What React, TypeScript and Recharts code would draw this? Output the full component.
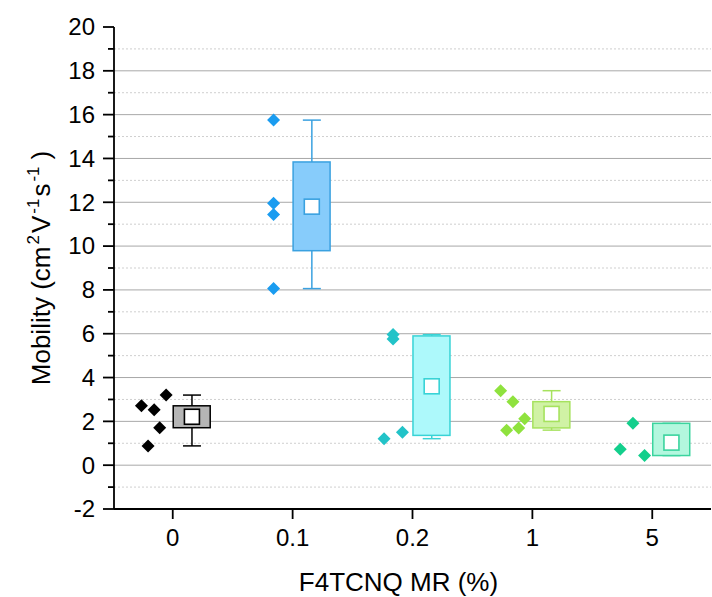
import React from 'react';
import { ComposedChart, XAxis, YAxis, Bar, Scatter, CartesianGrid } from 'recharts';

// Dopant molar ratio categories
const categories = ['0', '0.1', '0.2', '1', '5'];

// Individual device mobilities (cm^2 V^-1 s^-1) per category
const mobility0 = [2.71, 3.2, 2.53, 1.71, 0.88];
const mobility01 = [15.75, 11.95, 11.44, 8.06];
const mobility02 = [5.96, 5.76, 1.21, 1.5];
const mobility1 = [3.4, 2.9, 2.12, 1.7, 1.6];
const mobility5 = [1.91, 0.73, 0.44];

// Box statistics per category
const boxQ1 = [1.71, 9.79, 1.36, 1.7, 0.44];
const boxQ3 = [2.71, 13.84, 5.9, 2.9, 1.91];
const whiskerLow = [0.88, 8.06, 1.21, 1.6, 0.44];
const whiskerHigh = [3.2, 15.75, 5.96, 3.4, 1.91];
const boxMean = [2.21, 11.8, 3.6, 2.34, 1.03];

// Axis ticks
const yTicks = [-2, -1, 0, 1, 2, 3, 4, 5, 6, 7, 8, 9, 10, 11, 12, 13, 14, 15, 16, 17, 18, 19, 20];
const majorGrid = [0, 2, 4, 6, 8, 10, 12, 14, 16, 18];
const minorGrid = [-1, 1, 3, 5, 7, 9, 11, 13, 15, 17, 19];

// Layout: horizontal jitter of the raw points (category units), and box offset
const pointJitter = [
  [-0.261, -0.055, -0.155, -0.109, -0.206],
  [-0.159, -0.159, -0.159, -0.159],
  [-0.162, -0.162, -0.237, -0.084],
  [-0.265, -0.162, -0.064, -0.114, -0.215],
  [-0.161, -0.267, -0.064],
];
const BOX_SHIFT = 0.16;
const BOX_W = 37;
const CAP_HALF = 9;

const palette = [
  { point: '#000000', fill: '#b5b5b5', edge: '#000000' },
  { point: '#1a9cf0', fill: '#87ccfb', edge: '#3aa1e0' },
  { point: '#22c3c8', fill: '#adf9fb', edge: '#38d3d6' },
  { point: '#8fe23e', fill: '#d0f2a5', edge: '#a6e25e' },
  { point: '#13cf8c', fill: '#b3f7de', edge: '#3bd49e' },
];

const FONT = 'Liberation Sans, Arial, sans-serif';
const X_DOMAIN: [number, number] = [-0.49, 4.49];
const AXIS_W = 1.8;

const seriesValues = [mobility0, mobility01, mobility02, mobility1, mobility5];

const points = seriesValues.flatMap((vals, ci) =>
  vals.map((v, k) => ({ x: ci + pointJitter[ci][k], y: v, group: ci }))
);

const boxTable = categories.map((c, i) => ({
  label: c,
  x: i + BOX_SHIFT,
  box: [boxQ1[i], boxQ3[i]],
  whisk: [whiskerLow[i], whiskerHigh[i]],
  mean: boxMean[i],
  group: i,
}));

const Diamond = (p: any) => {
  const { cx, cy, payload } = p;
  const r = 6.5;
  const c = palette[payload.group].point;
  return (
    <polygon
      points={`${cx},${cy - r} ${cx + r},${cy} ${cx},${cy + r} ${cx - r},${cy}`}
      fill={c}
    />
  );
};

const MeanSquare = (p: any) => {
  const { cx, cy, payload } = p;
  const s = 15;
  return (
    <rect
      x={cx - s / 2}
      y={cy - s / 2}
      width={s}
      height={s}
      fill="#ffffff"
      stroke={palette[payload.group].edge}
      strokeWidth={1.6}
    />
  );
};

const BoxShape = (p: any) => {
  const { x, y, width, height, payload } = p;
  const top = Math.min(y, y + height);
  const h = Math.abs(height);
  const cx = x + width / 2;
  const c = palette[payload.group];
  return (
    <rect x={cx - BOX_W / 2} y={top} width={BOX_W} height={h} fill={c.fill} stroke={c.edge} strokeWidth={1.5} />
  );
};

const WhiskerShape = (p: any) => {
  const { x, y, width, height, payload } = p;
  const top = Math.min(y, y + height);
  const bottom = Math.max(y, y + height);
  const cx = x + width / 2;
  const c = palette[payload.group];
  return (
    <g stroke={c.edge} strokeWidth={1.5}>
      <line x1={cx} x2={cx} y1={top} y2={bottom} />
      <line x1={cx - CAP_HALF} x2={cx + CAP_HALF} y1={top} y2={top} />
      <line x1={cx - CAP_HALF} x2={cx + CAP_HALF} y1={bottom} y2={bottom} />
    </g>
  );
};

const YTick = (p: any) => {
  const { x, y, payload } = p;
  const v = payload.value;
  const major = v % 2 === 0;
  return (
    <g>
      <line x1={x} x2={x - (major ? 11 : 6)} y1={y} y2={y} stroke="#000" strokeWidth={AXIS_W} />
      {major && (
        <text x={x - 19} y={y} dy="0.35em" textAnchor="end" fontSize={24} fontFamily={FONT} fill="#000">
          {v}
        </text>
      )}
    </g>
  );
};

const YTitle = (p: any) => {
  const vb = p.viewBox || {};
  const cx = 50;
  const cy = vb.y + vb.height / 2;
  return (
    <text
      x={cx}
      y={cy}
      transform={`rotate(-90, ${cx}, ${cy})`}
      textAnchor="middle"
      fontSize={26}
      fontFamily={FONT}
      fill="#000"
    >
      Mobility (cm
      <tspan fontSize={17} dy={-11} dx={2}>2</tspan>
      <tspan dy={11} dx={2}>V</tspan>
      <tspan fontSize={17} dy={-11} dx={2}>-1</tspan>
      <tspan dy={11} dx={2}>s</tspan>
      <tspan fontSize={17} dy={-11} dx={2}>-1</tspan>
      <tspan dy={11} dx={7}>)</tspan>
    </text>
  );
};

const XTitle = (p: any) => {
  const vb = p.viewBox || {};
  return (
    <text
      x={vb.x + vb.width / 2 - 14}
      y={591}
      textAnchor="middle"
      fontSize={26}
      fontFamily={FONT}
      fill="#000"
    >
      F4TCNQ MR (%)
    </text>
  );
};

export default function App() {
  return (
    <div style={{ position: 'absolute', left: 0, top: 0, background: '#fff' }}>
      <ComposedChart
        width={712}
        height={597}
        data={boxTable}
        margin={{ top: 27, right: 1, bottom: 0, left: 0 }}
      >
        <CartesianGrid
          vertical={false}
          horizontalValues={minorGrid}
          stroke="#cfcfcf"
          strokeDasharray="2 2"
        />
        <CartesianGrid vertical={false} horizontalValues={majorGrid} stroke="#a8a8a8" />
        <XAxis
          dataKey="x"
          type="number"
          domain={X_DOMAIN}
          allowDataOverflow
          ticks={[0, 1, 2, 3, 4]}
          interval={0}
          tickFormatter={(v: number) => categories[v]}
          height={88}
          tickSize={10}
          tickMargin={10}
          axisLine={{ stroke: '#000', strokeWidth: AXIS_W }}
          tickLine={{ stroke: '#000', strokeWidth: AXIS_W }}
          tick={{ fontSize: 24, fontFamily: FONT, fill: '#000' }}
          label={{ content: (p: any) => <XTitle {...p} /> }}
        />
        <XAxis
          xAxisId="top"
          orientation="top"
          dataKey="x"
          type="number"
          domain={X_DOMAIN}
          allowDataOverflow
          ticks={[0, 1, 2, 3, 4]}
          interval={0}
          height={0}
          tickSize={9}
          tick={false}
          axisLine={{ stroke: '#000', strokeWidth: AXIS_W }}
          tickLine={{ stroke: '#000', strokeWidth: AXIS_W }}
        />
        <XAxis xAxisId="whisker" dataKey="x" type="number" domain={X_DOMAIN} allowDataOverflow hide />
        <YAxis
          type="number"
          domain={[-2, 20]}
          allowDataOverflow
          ticks={yTicks}
          interval={0}
          width={114}
          tickSize={0}
          tickMargin={0}
          tickLine={false}
          axisLine={{ stroke: '#000', strokeWidth: AXIS_W }}
          tick={(p: any) => <YTick {...p} />}
          label={{ content: (p: any) => <YTitle {...p} /> }}
        />
        <YAxis
          yAxisId="right"
          orientation="right"
          type="number"
          domain={[-2, 20]}
          width={0}
          ticks={[]}
          tick={false}
          tickLine={false}
          axisLine={{ stroke: '#000', strokeWidth: AXIS_W }}
        />
        <Bar
          xAxisId="whisker"
          dataKey="whisk"
          shape={(p: any) => <WhiskerShape {...p} />}
          isAnimationActive={false}
        />
        <Bar dataKey="box" shape={(p: any) => <BoxShape {...p} />} isAnimationActive={false} />
        <Scatter data={boxTable} dataKey="mean" shape={(p: any) => <MeanSquare {...p} />} isAnimationActive={false} />
        <Scatter data={points} dataKey="y" shape={(p: any) => <Diamond {...p} />} isAnimationActive={false} />
      </ComposedChart>
    </div>
  );
}
